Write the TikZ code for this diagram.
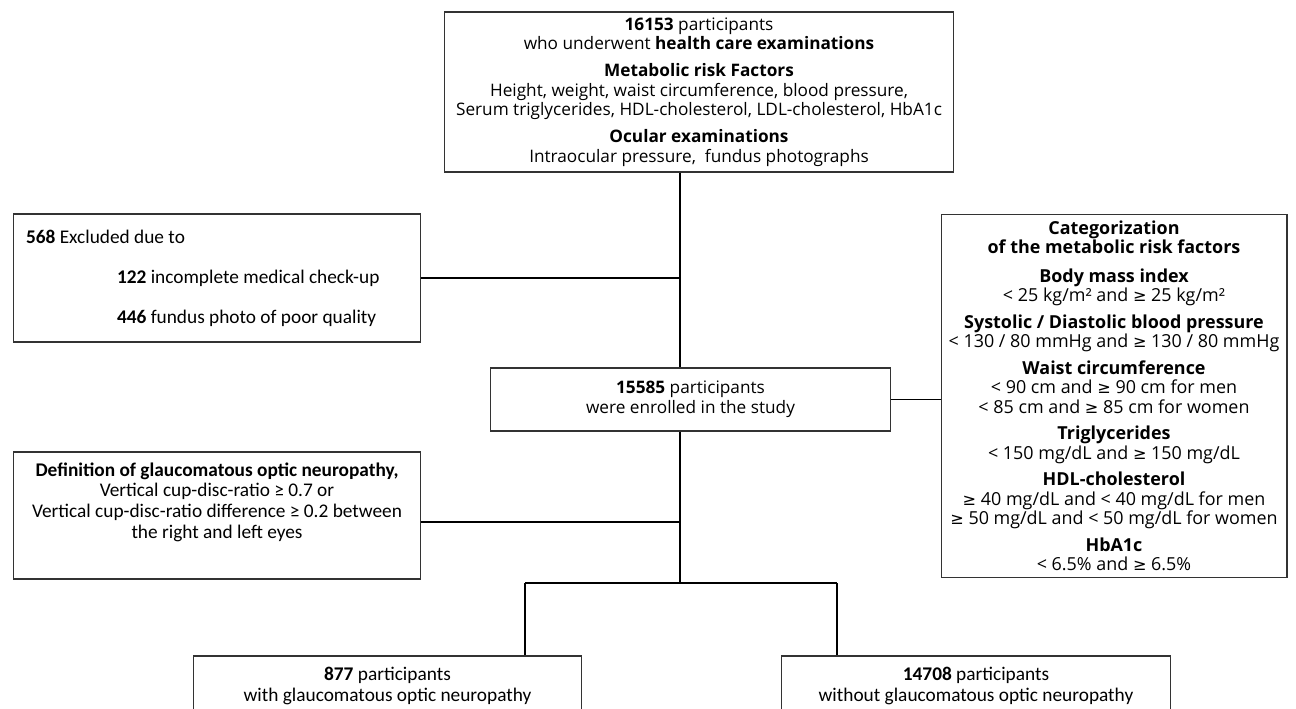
\documentclass[tikz,border=0pt]{standalone}
\usepackage{fontspec}
\setmainfont{Open Sans}
\newfontfamily\calibrifont{Carlito}
\newfontfamily\symbolfont{DejaVu Sans}[Scale=0.9]
\newcommand{\gesym}{{\symbolfont ≥}}
\newcommand{\boxfont}{\fontsize{9.8}{11.2}\selectfont}
\newcommand{\listfont}{\fontsize{10.2}{11.1}\selectfont}
\newcommand{\narrowfont}{\calibrifont\fontsize{11}{11.7}\selectfont}
\tikzset{
  flow box/.style={
    draw=black!80,
    line width=0.6pt,
    inner sep=0pt,
    align=center,
    font=\boxfont
  },
  narrow box/.style={flow box,font=\narrowfont},
  flow link/.style={line width=1.1pt,draw=black}
}

\begin{document}
\begin{tikzpicture}[x=0.02cm,y=-0.02cm]
  \useasboundingbox (0,0) rectangle (1296,709);

  \node[flow box,minimum width=10.2cm,minimum height=3.2cm] (screened) at (699,92)
    {\textbf{16153} participants\\
     who underwent \textbf{health care examinations}\\[4pt]
     \textbf{Metabolic risk Factors}\\
     Height, weight, waist circumference, blood pressure,\\
     Serum triglycerides, HDL-cholesterol, LDL-cholesterol, HbA1c\\[4pt]
     \textbf{Ocular examinations}\\
     Intraocular pressure,\ \ fundus photographs};

  \node[narrow box,align=flush left,text width=7.64cm,minimum width=8.16cm,minimum height=2.56cm] (excluded) at (217,278)
    {\textbf{568} Excluded due to\\[11pt]
     \hspace*{1.82cm}\textbf{122} incomplete medical check-up\\[11pt]
     \hspace*{1.82cm}\textbf{446} fundus photo of poor quality};

  \node[flow box,minimum width=8.02cm,minimum height=1.26cm] (enrolled) at (690.5,399.5)
    {\textbf{15585} participants\\ were enrolled in the study};

  \node[flow box,font=\listfont,minimum width=6.92cm,minimum height=7.28cm] (categories) at (1114,396)
    {\textbf{Categorization}\\
     \textbf{of the metabolic risk factors}\\[5pt]
     \textbf{Body mass index}\\
     < 25 kg/m² and \gesym{} 25 kg/m²\\[4pt]
     \textbf{Systolic / Diastolic blood pressure}\\
     < 130 / 80 mmHg and \gesym{} 130 / 80 mmHg\\[4pt]
     \textbf{Waist circumference}\\
     < 90 cm and \gesym{} 90 cm for men\\
     < 85 cm and \gesym{} 85 cm for women\\[4pt]
     \textbf{Triglycerides}\\
     < 150 mg/dL and \gesym{} 150 mg/dL\\[4pt]
     \textbf{HDL-cholesterol}\\
     \gesym{} 40 mg/dL and < 40 mg/dL for men\\
     \gesym{} 50 mg/dL and < 50 mg/dL for women\\[4pt]
     \textbf{HbA1c}\\
     < 6.5\% and \gesym{} 6.5\%};

  \node[narrow box,minimum width=8.16cm,minimum height=2.54cm] (definition) at (217,515.5) {};
  \node[font=\narrowfont,align=center,inner sep=0pt,anchor=north] (definitiontext) at ([yshift=-0.22cm]definition.north)
    {\textbf{Definition of glaucomatous optic neuropathy,}\\
     Vertical cup-disc-ratio ≥ 0.7 or\\
     Vertical cup-disc-ratio difference ≥ 0.2 between\\
     the right and left eyes};

  \node[narrow box,minimum width=7.78cm,minimum height=1.2cm] (withgon) at (387.5,686)
    {\textbf{877} participants\\ with glaucomatous optic neuropathy};
  \node[narrow box,minimum width=7.8cm,minimum height=1.2cm] (withoutgon) at (976,686)
    {\textbf{14708} participants\\ without glaucomatous optic neuropathy};

  \coordinate (trunk) at (680,0);
  \coordinate (defjoin) at (680,522);
  \coordinate (split) at (680,583);
  \coordinate (splitleft) at (525,583);
  \coordinate (splitright) at (837,583);

  \draw[flow link] (screened.south -| trunk) -- (enrolled.north -| trunk);
  \draw[flow link] (excluded.east) -- (excluded.east -| trunk);
  \draw[flow link] (enrolled.east) -- (enrolled.east -| categories.west);
  \draw[flow link] (enrolled.south -| trunk) -- (split);
  \draw[flow link] (definition.east |- defjoin) -- (defjoin);
  \draw[flow link] (splitleft) -- (splitright);
  \draw[flow link] (splitleft) -- (splitleft |- withgon.north);
  \draw[flow link] (splitright) -- (splitright |- withoutgon.north);
\end{tikzpicture}
\end{document}
